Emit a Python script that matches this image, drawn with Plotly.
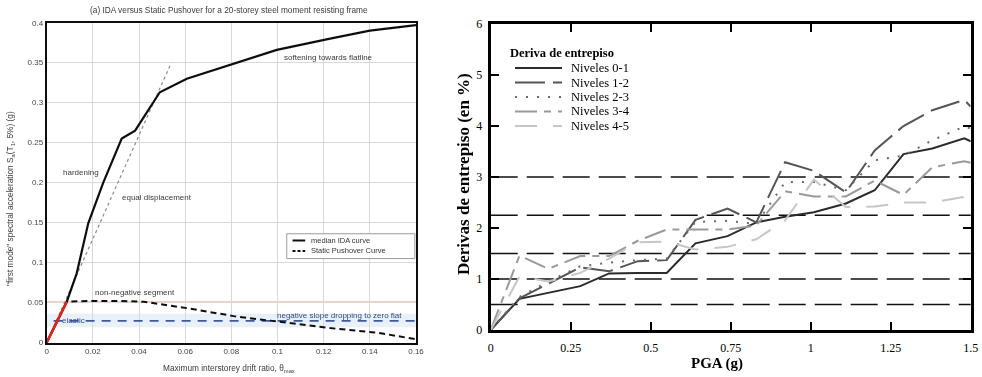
import plotly.graph_objects as go

W, H = 982, 377

# ---------------- Panel (a): IDA versus static pushover ----------------
ida_drift = [0, 0.0087, 0.013, 0.018, 0.0245, 0.0325, 0.0383, 0.049, 0.0607, 0.081, 0.0997, 0.1228, 0.14, 0.16]
ida_sa = [0, 0.051, 0.0865, 0.149, 0.2, 0.255, 0.265, 0.313, 0.33, 0.349, 0.366, 0.38, 0.39, 0.397]

spo_drift = [0, 0.0087, 0.0188, 0.03, 0.042, 0.0607, 0.081, 0.0997, 0.1228, 0.144, 0.157, 0.16]
spo_sa = [0, 0.051, 0.052, 0.052, 0.051, 0.043, 0.033, 0.026, 0.018, 0.012, 0.006, 0.004]

eqd_drift = [0, 0.054]
eqd_sa = [0, 0.35]

elastic_drift = [0, 0.0087]
elastic_sa = [0, 0.051]

flat_sa = 0.027
flat_drift = [0.003, 0.16]
yield_sa = 0.051

drift_ticks = [0, 0.02, 0.04, 0.06, 0.08, 0.1, 0.12, 0.14, 0.16]
drift_labels = ["0", "0.02", "0.04", "0.06", "0.08", "0.1", "0.12", "0.14", "0.16"]
sa_ticks = [0, 0.05, 0.1, 0.15, 0.2, 0.25, 0.3, 0.35, 0.4]
sa_labels = ["0", "0.05", "0.1", "0.15", "0.2", "0.25", "0.3", "0.35", "0.4"]

# ---------------- Panel (b): deriva de entrepiso vs PGA ----------------
pga_01 = [0, 0.09, 0.28, 0.37, 0.46, 0.55, 0.64, 0.74, 0.83, 0.92, 1.01, 1.11, 1.20, 1.29, 1.38, 1.48, 1.50]
deriva_01 = [0, 0.61, 0.86, 1.11, 1.12, 1.12, 1.70, 1.84, 2.11, 2.22, 2.31, 2.48, 2.74, 3.45, 3.56, 3.76, 3.70]

pga_12 = [0, 0.09, 0.28, 0.37, 0.46, 0.55, 0.64, 0.74, 0.83, 0.92, 1.01, 1.11, 1.20, 1.29, 1.38, 1.48, 1.50]
deriva_12 = [0, 0.62, 1.23, 1.15, 1.35, 1.37, 2.16, 2.38, 2.11, 3.29, 3.12, 2.70, 3.52, 4.00, 4.31, 4.51, 4.38]

pga_23 = [0, 0.09, 0.18, 0.28, 0.37, 0.46, 0.55, 0.64, 0.74, 0.83, 0.92, 1.01, 1.11, 1.20, 1.29, 1.38, 1.48, 1.50]
deriva_23 = [0, 0.65, 0.95, 1.25, 1.32, 1.37, 1.40, 2.12, 2.14, 2.08, 2.90, 2.90, 2.74, 3.33, 3.42, 3.72, 3.99, 3.95]

pga_34 = [0, 0.09, 0.18, 0.28, 0.37, 0.46, 0.55, 0.64, 0.74, 0.83, 0.92, 1.01, 1.11, 1.20, 1.29, 1.38, 1.48, 1.50]
deriva_34 = [0, 1.46, 1.20, 1.45, 1.45, 1.75, 1.97, 1.97, 1.97, 2.05, 2.72, 2.62, 2.62, 2.93, 2.65, 3.19, 3.31, 3.28]

pga_45 = [0, 0.09, 0.18, 0.28, 0.37, 0.46, 0.55, 0.64, 0.74, 0.83, 0.92, 1.01, 1.11, 1.20, 1.29, 1.38, 1.48, 1.50]
deriva_45 = [0, 1.05, 0.95, 1.12, 1.40, 1.72, 1.73, 1.58, 1.63, 1.78, 2.15, 2.95, 2.41, 2.42, 2.50, 2.50, 2.61, 2.61]

umbrales = [0.5, 1.0, 1.5, 2.25, 3.0]

pga_ticks = [0, 0.25, 0.5, 0.75, 1.0, 1.25, 1.5]
pga_labels = ["0", "0.25", "0.5", "0.75", "1", "1.25", "1.5"]

niveles = ["Niveles 0-1", "Niveles 1-2", "Niveles 2-3", "Niveles 3-4", "Niveles 4-5"]
series = [(pga_01, deriva_01), (pga_12, deriva_12), (pga_23, deriva_23),
          (pga_34, deriva_34), (pga_45, deriva_45)]
estilos = [
    dict(color="#2b2b2b", dash="solid", width=2),
    dict(color="#555555", dash="30px,8px", width=2),
    dict(color="#6a6a6a", dash="2px,9px", width=2),
    dict(color="#9a9a9a", dash="22px,7px,7px,7px", width=2),
    dict(color="#c6c6c6", dash="22px,16px", width=2),
]


def px(x):
    return x / W


def py(y):
    return 1 - y / H


fig = go.Figure()

# ----- panel (a) traces -----
fig.add_trace(go.Scatter(x=eqd_drift, y=eqd_sa, mode="lines", xaxis="x", yaxis="y",
                         line=dict(color="#8a8a8a", width=1.2, dash="3px,3px"), showlegend=False))
fig.add_trace(go.Scatter(x=flat_drift, y=[flat_sa, flat_sa], mode="lines", xaxis="x", yaxis="y",
                         line=dict(color="#3f5a98", width=1.6, dash="9px,7px"), showlegend=False))
fig.add_trace(go.Scatter(x=spo_drift, y=spo_sa, mode="lines", xaxis="x", yaxis="y",
                         line=dict(color="#111111", width=2, dash="6px,4px"), showlegend=False))
fig.add_trace(go.Scatter(x=ida_drift, y=ida_sa, mode="lines", xaxis="x", yaxis="y",
                         line=dict(color="#111111", width=2.2), showlegend=False))
fig.add_trace(go.Scatter(x=elastic_drift, y=elastic_sa, mode="lines", xaxis="x", yaxis="y",
                         line=dict(color="#e0261c", width=2.6), showlegend=False))

# ----- panel (b) traces -----
for nombre, (xs, ys), est in zip(niveles, series, estilos):
    fig.add_trace(go.Scatter(x=xs, y=ys, mode="lines", name=nombre, xaxis="x2", yaxis="y2",
                             line=est, showlegend=False))

shapes = []
annotations = []

# panel (a) background band and yield line
shapes.append(dict(type="rect", xref="x", yref="y", x0=0, x1=0.16, y0=0.019, y1=0.036,
                   fillcolor="rgba(190,215,240,0.35)", line=dict(width=0), layer="below"))
shapes.append(dict(type="line", xref="x", yref="y", x0=0, x1=0.16, y0=yield_sa, y1=yield_sa,
                   line=dict(color="#f2c7ad", width=1), layer="below"))

# panel (a) legend box
shapes.append(dict(type="rect", xref="x", yref="y", x0=0.104, x1=0.1595, y0=0.105, y1=0.136,
                   fillcolor="white", line=dict(color="#9a9a9a", width=1)))
shapes.append(dict(type="line", xref="x", yref="y", x0=0.1065, x1=0.112, y0=0.1275, y1=0.1275,
                   line=dict(color="#111111", width=2)))
shapes.append(dict(type="line", xref="x", yref="y", x0=0.1065, x1=0.112, y0=0.1145, y1=0.1145,
                   line=dict(color="#111111", width=2, dash="3px,2px")))
sans = "Liberation Sans, Arial, sans-serif"
annotations.append(dict(x=0.1135, y=0.1275, xref="x", yref="y", text="median IDA curve",
                        showarrow=False, xanchor="left", yanchor="middle",
                        font=dict(family=sans, size=7.5, color="#333")))
annotations.append(dict(x=0.1135, y=0.1145, xref="x", yref="y", text="Static Pushover Curve",
                        showarrow=False, xanchor="left", yanchor="middle",
                        font=dict(family=sans, size=7.5, color="#333")))

# panel (a) curve labels
for txt, xx, yy, col in [
    ("hardening", 0.0149, 0.213, "#3a3a3a"),
    ("equal displacement", 0.0478, 0.181, "#3a3a3a"),
    ("softening towards flatline", 0.1223, 0.357, "#3a3a3a"),
    ("non-negative segment", 0.0383, 0.062, "#3a3a3a"),
    ("negative slope dropping to zero flat", 0.127, 0.034, "#2f4a86"),
    ("elastic", 0.0114, 0.028, "#2f4a86"),
]:
    annotations.append(dict(x=xx, y=yy, xref="x", yref="y", text=txt, showarrow=False,
                            xanchor="center", yanchor="middle",
                            font=dict(family=sans, size=8, color=col)))

annotations.append(dict(x=px(229), y=py(10), xref="paper", yref="paper",
                        xanchor="center", yanchor="middle",
                        text="(a) IDA versus Static Pushover for a 20-storey steel moment resisting frame",
                        showarrow=False, font=dict(family=sans, size=8.3, color="#3a3a3a")))
annotations.append(dict(x=px(229), y=py(368), xref="paper", yref="paper",
                        xanchor="center", yanchor="middle",
                        text="Maximum interstorey drift ratio, θ<sub>max</sub>",
                        showarrow=False, font=dict(family=sans, size=8.3, color="#3a3a3a")))
annotations.append(dict(x=px(10), y=py(199), xref="paper", yref="paper", textangle=-90,
                        xanchor="center", yanchor="middle",
                        text="\"first mode\" spectral acceleration S<sub>a</sub>(T<sub>1</sub>, 5%) (g)",
                        showarrow=False, font=dict(family=sans, size=8.3, color="#3a3a3a")))

# everything above belongs to panel (a), which is drawn slightly softened
n_ann_a = len(annotations)
n_shp_a = len(shapes)

# panel (b) threshold lines
for u in umbrales:
    shapes.append(dict(type="line", xref="x2 domain", yref="y2", x0=0, x1=1, y0=u, y1=u,
                       line=dict(color="#111111", width=1.5, dash="27px,9px"), layer="below"))

# panel (b) legend
serif = "Liberation Serif, Times New Roman, serif"
annotations.append(dict(x=px(508), y=py(53), xref="paper", yref="paper",
                        xanchor="left", yanchor="middle",
                        text="<b>Deriva de entrepiso</b>", showarrow=False,
                        font=dict(family=serif, size=12.5, color="black")))
ley_y = [68, 82.5, 97, 111.5, 126]
for nombre, est, yy in zip(niveles, estilos, ley_y):
    shapes.append(dict(type="line", xref="paper", yref="paper", x0=px(515), x1=px(562),
                       y0=py(yy), y1=py(yy), line=est))
    annotations.append(dict(x=px(569), y=py(yy), xref="paper", yref="paper",
                            xanchor="left", yanchor="middle",
                            text=nombre, showarrow=False, font=dict(family=serif, size=12.5, color="black")))

annotations.append(dict(x=px(717), y=py(363), xref="paper", yref="paper",
                        xanchor="center", yanchor="middle", text="<b>PGA (g)</b>",
                        showarrow=False, font=dict(family=serif, size=15, color="black")))
annotations.append(dict(x=px(463), y=py(174), xref="paper", yref="paper", textangle=-90,
                        xanchor="center", yanchor="middle",
                        text="<b>Derivas de entrepiso (en %)</b>",
                        showarrow=False, font=dict(family=serif, size=17, color="black")))

fig.update_layout(
    width=W, height=H, margin=dict(l=0, r=0, t=0, b=0, autoexpand=False),
    paper_bgcolor="white", plot_bgcolor="white",
    showlegend=False,
    xaxis=dict(domain=[px(46.7), px(416)], range=[0, 0.16], tickvals=drift_ticks, ticktext=drift_labels,
               showgrid=True, gridcolor="#d9d9d9", gridwidth=1, zeroline=False, automargin=False,
               showline=True, linecolor="#111", linewidth=2, mirror=True, ticks="",
               tickfont=dict(family=sans, size=8, color="#444"), anchor="y"),
    yaxis=dict(domain=[py(342.5), py(22.7)], range=[0, 0.4], tickvals=sa_ticks, ticktext=sa_labels,
               showgrid=True, gridcolor="#d9d9d9", gridwidth=1, zeroline=False, automargin=False,
               showline=True, linecolor="#111", linewidth=2, mirror=True, ticks="",
               tickfont=dict(family=sans, size=8, color="#444"), anchor="x"),
    xaxis2=dict(domain=[px(490.7), px(970.7)], range=[0, 1.5], tickvals=pga_ticks, ticktext=pga_labels,
                showgrid=False, zeroline=False, showline=True, linecolor="black", linewidth=3,
                mirror="ticks", ticks="inside", ticklen=8, tickwidth=2, tickcolor="black",
                ticklabelstandoff=5, automargin=False,
                tickfont=dict(family=serif, size=12, color="black"), anchor="y2"),
    yaxis2=dict(domain=[py(330), py(24)], range=[0, 6], dtick=1,
                showgrid=False, zeroline=False, showline=True, linecolor="black", linewidth=3,
                mirror="ticks", ticks="inside", ticklen=8, tickwidth=2, tickcolor="black",
                ticklabelstandoff=3, automargin=False,
                tickfont=dict(family=serif, size=12, color="black"), anchor="x2"),
    shapes=shapes,
    annotations=annotations,
)

# Page setup: no body margin, and a soft Gaussian blur on the panel (a) elements
soften_js = """
document.body.style.margin = '0';
document.body.style.overflow = 'hidden';
try {
  var gd = document.getElementById('{plot_id}');
  var svg = gd.querySelector('svg.main-svg');
  var ns = 'http://www.w3.org/2000/svg';
  var defs = svg.querySelector('defs');
  var f = document.createElementNS(ns, 'filter');
  f.setAttribute('id', 'suave');
  f.setAttribute('filterUnits', 'userSpaceOnUse');
  f.setAttribute('x', '-2000'); f.setAttribute('y', '-2000');
  f.setAttribute('width', '6000'); f.setAttribute('height', '6000');
  var b = document.createElementNS(ns, 'feGaussianBlur');
  b.setAttribute('stdDeviation', '0.65');
  f.appendChild(b);
  defs.appendChild(f);
  var targets = [];
  svg.querySelectorAll('.cartesianlayer .subplot.xy').forEach(function (el) { targets.push(el); });
  for (var i = 0; i < NANN; i++) {
    svg.querySelectorAll('.infolayer .annotation[data-index="' + i + '"]').forEach(function (el) { targets.push(el); });
  }
  for (var j = 0; j < NSHP; j++) {
    svg.querySelectorAll('.shapelayer path[data-index="' + j + '"]').forEach(function (el) { targets.push(el); });
  }
  targets.forEach(function (el) { el.setAttribute('filter', 'url(#suave)'); });
} catch (e) {}
""".replace("NANN", str(n_ann_a)).replace("NSHP", str(n_shp_a))

fig.write_html("out.html", post_script=soften_js)
